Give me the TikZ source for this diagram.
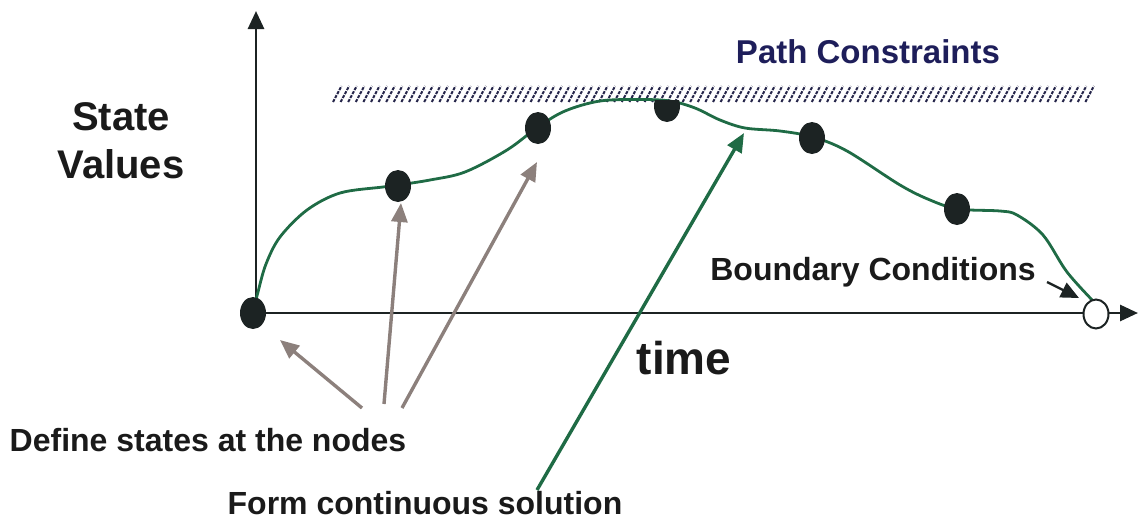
\documentclass[tikz,border=0pt]{standalone}
\usepackage{fontspec}
\setmainfont{Liberation Sans}
\usetikzlibrary{arrows.meta,shapes.geometric}
\definecolor{curvegreen}{HTML}{1F6B45}
\definecolor{arrowgray}{HTML}{8C807C}
\definecolor{hatchnavy}{HTML}{25254A}
\definecolor{titlenavy}{HTML}{1E1E5A}
\definecolor{dotblack}{HTML}{1C2323}
\definecolor{textblack}{HTML}{1A1A1A}
\begin{document}
\begin{tikzpicture}[x=1pt,y=-1pt,
  axis/.style={draw=dotblack,line width=2.8pt,-{Triangle[length=18pt,width=16pt]}},
  dot/.style={ellipse,fill=dotblack,draw=none,minimum width=26pt,minimum height=32pt,inner sep=0pt},
  opendot/.style={ellipse,fill=white,draw=dotblack,line width=2pt,minimum width=25pt,minimum height=29pt,inner sep=0pt},
  curve/.style={draw=curvegreen,line width=2.8pt},
  grayarrow/.style={draw=arrowgray,line width=3.4pt,-{Triangle[length=19pt,width=16pt]}},
  greenarrow/.style={draw=curvegreen,line width=3.4pt,-{Triangle[length=19pt,width=16pt]}},
  blackarrow/.style={draw=dotblack,line width=2.4pt,-{Triangle[length=18pt,width=16pt]}},
  hatch/.style={draw=hatchnavy,line width=2pt,dash pattern=on 3.2pt off 1.3pt},
  lbl/.style={text=textblack,inner sep=0pt}
]
\useasboundingbox (0,0) rectangle (1138,520);
% hatched constraint band
\foreach \x in {333,340.6,...,1092} {
  \draw[hatch] (\x,102) -- (\x+8.5,86);
}
% axes
\coordinate (origin) at (256,313);
\coordinate (ytip) at (256,11);
\coordinate (xtip) at (1138,313);
\draw[axis] (origin) -- (ytip);
\draw[axis] (250,313) -- (xtip);
% curve
\draw[curve] plot[smooth,tension=0.55] coordinates {
 (253,313) (258,292) (266,264) (280,237) (307,210) (340,193) (383,187) (398,185)
 (430,180) (465,172) (507,150) (538,127) (565,111) (600,101) (640,99.5)
 (670,101) (695,108) (720,120) (745,128) (780,131) (813,137) (847,151)
 (900,185) (930,200) (958,209) (1000,211) (1017,215) (1043,235)
 (1067,272) (1095,303)};
% dots
\node[dot] (n1) at (253,313) {};
\node[dot] (n2) at (398,186) {};
\node[dot] (n3b) at (538,128) {};
\begin{scope}
  \clip (640,100) rectangle (700,140);
  \node[dot] (n4) at (667,106) {};
\end{scope}
\node[dot] (n5) at (812,138) {};
\node[dot] (n6) at (957,209) {};
\node[opendot] (n7) at (1096,314) {};
% labels
\node[lbl,font=\bfseries\fontsize{40}{48}\selectfont,align=center] (sv) at (121,141) {State\\Values};
\node[lbl,font=\bfseries\fontsize{33}{36}\selectfont,text=titlenavy] (pc) at (868,52) {Path Constraints};
\node[lbl,font=\bfseries\fontsize{46}{50}\selectfont] (tm) at (684,358) {time};
\node[lbl,font=\bfseries\fontsize{32}{36}\selectfont] (bc) at (873,272) {Boundary Conditions};
\node[lbl,font=\bfseries\fontsize{32}{36}\selectfont] (ds) at (208,440) {Define states at the nodes};
\node[lbl,font=\bfseries\fontsize{32}{36}\selectfont] (fc) at (425,503) {Form continuous solution};
% arrows
\coordinate (a1s) at (362,408); \coordinate (a1t) at (280,340);
\coordinate (a2s) at (384,404); \coordinate (a2t) at (401,203);
\coordinate (a3s) at (402,408); \coordinate (a3t) at (537,162);
\coordinate (g1s) at (537,490); \coordinate (g1t) at (744,133);
\coordinate (b1s) at (1047,282); \coordinate (b1t) at (1079,298);
\draw[grayarrow] (a1s) -- (a1t);
\draw[grayarrow] (a2s) -- (a2t);
\draw[grayarrow] (a3s) -- (a3t);
\draw[greenarrow] (g1s) -- (g1t);
\draw[blackarrow] (b1s) -- (b1t);
\end{tikzpicture}
\end{document}
